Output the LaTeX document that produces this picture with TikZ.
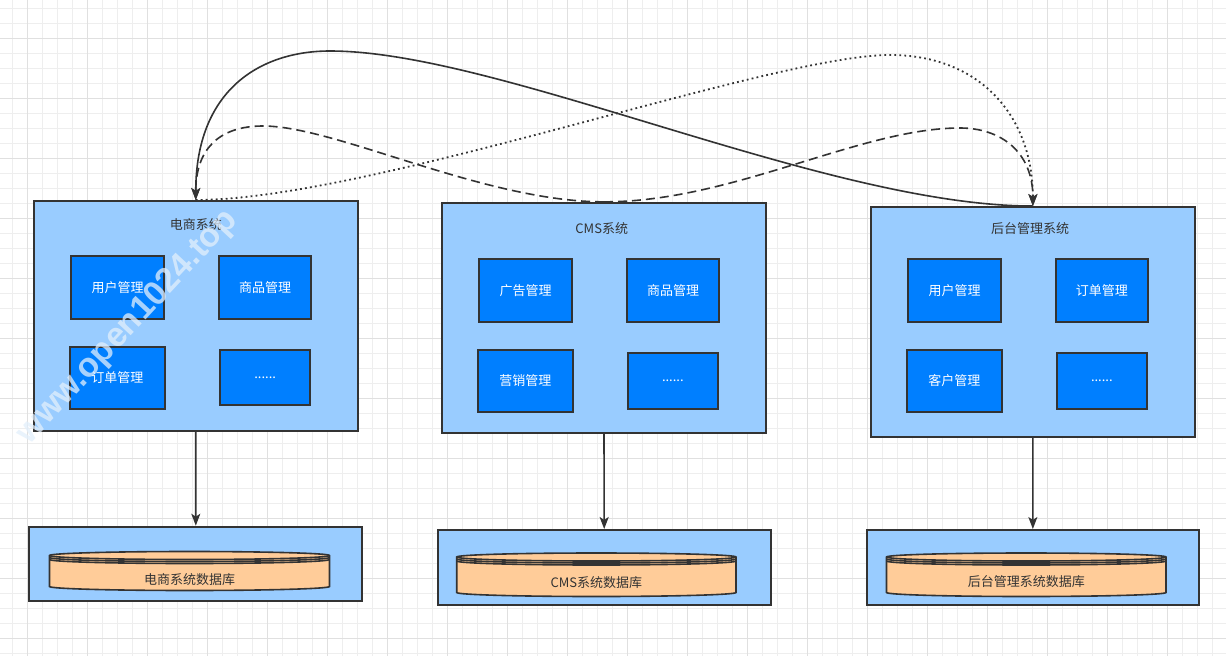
\documentclass[tikz,border=0pt]{standalone}
\usepackage{fontspec}
\setmainfont{Noto Sans CJK SC}
\newfontfamily\wmfont{Liberation Sans}
\usetikzlibrary{arrows.meta}
\definecolor{sysfill}{HTML}{99CCFF}
\definecolor{modfill}{HTML}{007FFF}
\definecolor{dbfill}{HTML}{FFCC99}
\definecolor{edgec}{HTML}{333333}
\definecolor{gridfine}{HTML}{EEEEEE}
\definecolor{gridmajor}{HTML}{E0E0E0}
\definecolor{wmcol}{HTML}{E2EFFC}
\newcommand\dbcyl[7]{%
  \pgfmathsetmacro\cxm{(#1+#2)/2}%
  \pgfmathsetmacro\krx{0.5523*(#2-#1)/2}%
  \pgfmathsetmacro\kdy{0.5523*4}%
  \filldraw[dbline] (#1,#3+4) .. controls (#1,#3+4-\kdy) and (\cxm-\krx,#3) .. (\cxm,#3)
     .. controls (\cxm+\krx,#3) and (#2,#3+4-\kdy) .. (#2,#3+4) -- (#2,#4-4)
     .. controls (#2,#4-4+\kdy) and (\cxm+\krx,#4) .. (\cxm,#4)
     .. controls (\cxm-\krx,#4) and (#1,#4-4+\kdy) .. (#1,#4-4) -- cycle;
  \foreach \ofs in {0,2,4}{%
    \draw[dbline,fill=none] (#1,#3+4+\ofs) .. controls (#1,#3+4+\ofs+\kdy) and (\cxm-\krx,#3+8+\ofs) .. (\cxm,#3+8+\ofs)
       .. controls (\cxm+\krx,#3+8+\ofs) and (#2,#3+4+\ofs+\kdy) .. (#2,#3+4+\ofs);}
  \node[dbtext] (#5) at (\cxm,#6) {#7};%
}
\begin{document}
\begin{tikzpicture}[x=1pt,y=-1pt,
  sysbox/.style={draw=edgec,line width=2pt,fill=sysfill,inner sep=0pt},
  modbox/.style={draw=edgec,line width=2pt,fill=modfill,inner sep=0pt,text=white,font=\fontsize{13}{15}\selectfont},
  title/.style={text=edgec,font=\fontsize{13}{15}\selectfont,inner sep=0pt},
  dbline/.style={draw=edgec,line width=1.6pt,fill=dbfill},
  dbtext/.style={text=edgec,font=\fontsize{13}{15}\selectfont,inner sep=0pt},
  conn/.style={draw=edgec,line width=1.6pt,-{Stealth[length=12pt,width=9pt,inset=3pt]}},
  dotline/.style={line width=1.8pt,dash pattern=on 1.8pt off 3.2pt},
  dashline/.style={dash pattern=on 9pt off 5pt}]
\useasboundingbox (0,0) rectangle (1226,656);
\fill[white] (0,0) rectangle (1226,656);
% grid
\foreach \k in {0,...,81} \draw[gridfine,line width=1pt] ({12.7+15*\k},0) -- ({12.7+15*\k},656);
\foreach \k in {0,...,43} \draw[gridfine,line width=1pt] (0,{8.3+15*\k}) -- (1226,{8.3+15*\k});
\foreach \k in {0,...,19} \draw[gridmajor,line width=1pt] ({27.7+60*\k},0) -- ({27.7+60*\k},656);
\foreach \k in {0,...,10} \draw[gridmajor,line width=1pt] (0,{38.3+60*\k}) -- (1226,{38.3+60*\k});

% system boxes
\node[sysbox,minimum width=324.5pt,minimum height=230pt] (s1) at (195.75,316) {};
\node[sysbox,minimum width=324.6pt,minimum height=230.3pt] (s2) at (604,318) {};
\node[sysbox,minimum width=323.7pt,minimum height=229.7pt] (s3) at (1032.9,321.9) {};
\node[title] (t1) at (195.75,225) {电商系统};
\node[title] (t2) at (601.7,228.5) {CMS系统};
\node[title] (t3) at (1030,229) {后台管理系统};

% modules
\node[modbox,minimum width=93pt,minimum height=63pt] (m11) at (117.5,287.5) {用户管理};
\node[modbox,minimum width=92.6pt,minimum height=63pt] (m12) at (265,287.5) {商品管理};
\node[modbox,minimum width=95.3pt,minimum height=62.3pt] (m13) at (117.35,377.85) {订单管理};
\node[modbox,minimum width=90.3pt,minimum height=54.7pt] (m14) at (265.15,377.35) {......};
\node[modbox,minimum width=93.6pt,minimum height=63.6pt] (m21) at (525.5,290.5) {广告管理};
\node[modbox,minimum width=92.6pt,minimum height=63.6pt] (m22) at (673,290.5) {商品管理};
\node[modbox,minimum width=95.3pt,minimum height=62pt] (m23) at (525.35,380.7) {营销管理};
\node[modbox,minimum width=90.3pt,minimum height=56pt] (m24) at (672.85,381) {......};
\node[modbox,minimum width=93.6pt,minimum height=63.6pt] (m31) at (954.5,290.5) {用户管理};
\node[modbox,minimum width=92.3pt,minimum height=63.6pt] (m32) at (1101.85,290.5) {订单管理};
\node[modbox,minimum width=95.3pt,minimum height=62pt] (m33) at (954.35,380.7) {客户管理};
\node[modbox,minimum width=90.3pt,minimum height=56.3pt] (m34) at (1101.85,380.85) {......};

% database boxes
\node[sysbox,minimum width=333pt,minimum height=74.6pt] (d1) at (195.8,564) {};
\node[sysbox,minimum width=333pt,minimum height=74.7pt] (d2) at (604.2,567.35) {};
\node[sysbox,minimum width=332.3pt,minimum height=74.7pt] (d3) at (1032.85,567.35) {};
\dbcyl{49.5}{329.5}{551.5}{590.5}{c1}{580}{电商系统数据库}
\dbcyl{456.7}{736}{553}{596.5}{c2}{582.3}{CMS系统数据库}
\dbcyl{886.5}{1166}{553}{596.5}{c3}{581.7}{后台管理系统数据库}

% vertical connectors
\draw[conn] (s1.south) -- (d1.north);
\draw[conn] (s2.south) -- (d2.north);
\draw[conn] (s3.south) -- (d3.north);

% top connectors
\draw[conn] (s3.north) .. controls ([xshift=-207pt]s3.north) and (500,51) .. (330,51)
   .. controls (260,51) and ([yshift=110pt]s1.north) .. (s1.north);
\draw[conn,dotline] (s1.north) .. controls ([xshift=174pt]s1.north) and (771,55) .. (890,55)
   .. controls (980,55) and ([yshift=90pt]s3.north) .. (s3.north);
\draw[conn,dashline] (s2.north) .. controls ([xshift=-120pt]s2.north) and (336,126) .. (263,126)
   .. controls (218,126) and ([yshift=50pt]s1.north) .. (s1.north);
\draw[conn,dashline] (s2.north) .. controls ([xshift=129pt]s2.north) and (860,128) .. (960,128)
   .. controls (1000,128) and ([yshift=55pt]s3.north) .. (s3.north);

% watermark
\node[rotate=47,text=wmcol,opacity=0.75,font=\wmfont\bfseries\fontsize{34}{34}\selectfont] (wm) at (127.5,327.5) {www.open1024.top};
\end{tikzpicture}
\end{document}
